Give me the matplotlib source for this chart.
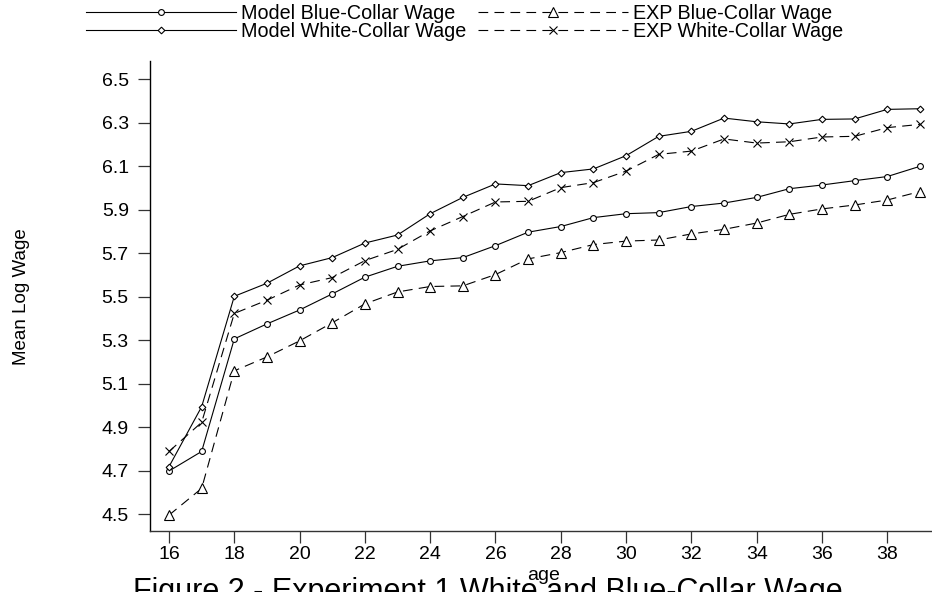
import matplotlib
matplotlib.use("Agg")
import matplotlib.pyplot as plt
import numpy as np
from matplotlib.legend_handler import HandlerLine2D

plt.rcParams["font.family"] = ["Liberation Sans", "DejaVu Sans"]
plt.rcParams["lines.scale_dashes"] = False

ages = list(range(16, 40))

model_blue = [4.698, 4.788, 5.306, 5.375, 5.439, 5.513, 5.590, 5.640, 5.665, 5.680,
              5.735, 5.797, 5.823, 5.864, 5.882, 5.887, 5.915, 5.931, 5.957, 5.997,
              6.014, 6.034, 6.053, 6.100]
model_white = [4.718, 4.994, 5.502, 5.562, 5.642, 5.680, 5.747, 5.784, 5.882, 5.957,
               6.019, 6.011, 6.071, 6.088, 6.149, 6.238, 6.261, 6.322, 6.305, 6.295,
               6.316, 6.318, 6.362, 6.365]
exp_blue = [4.495, 4.618, 5.159, 5.223, 5.297, 5.380, 5.467, 5.522, 5.547, 5.550,
            5.602, 5.674, 5.703, 5.740, 5.756, 5.761, 5.789, 5.810, 5.839, 5.879,
            5.904, 5.922, 5.945, 5.984]
exp_white = [4.788, 4.922, 5.423, 5.484, 5.554, 5.588, 5.666, 5.718, 5.803, 5.869,
             5.936, 5.939, 6.002, 6.025, 6.078, 6.155, 6.170, 6.226, 6.207, 6.213,
             6.235, 6.238, 6.278, 6.293]

x_ticks = list(range(16, 40, 2))
y_ticks = [4.5, 4.7, 4.9, 5.1, 5.3, 5.5, 5.7, 5.9, 6.1, 6.3, 6.5]


class KeyHandler(HandlerLine2D):
    # put the key marker a quarter of the way along the line
    def get_xdata(self, legend, xdescent, ydescent, width, height, fontsize):
        xdata = np.array([-xdescent, -xdescent + width])
        return xdata, np.array([-xdescent + 0.25 * width])


fig = plt.figure(figsize=(9.32, 5.92), dpi=100)
ax = fig.add_axes([150.3 / 932, 1 - 531 / 592, 1 - 150.3 / 932, (531 - 60.7) / 592])

lw = 0.8
mew = 0.8
dash = (7, 4.5)
l1, = ax.plot(ages, model_blue, color="black", lw=lw, marker="o", ms=4.2,
              mfc="white", mec="black", mew=mew, label="Model Blue-Collar Wage")
l2, = ax.plot(ages, model_white, color="black", lw=lw, marker="D", ms=3.4,
              mfc="white", mec="black", mew=mew, label="Model White-Collar Wage")
l3, = ax.plot(ages, exp_blue, color="black", lw=lw, dashes=dash, marker="^", ms=7.2,
              mfc="white", mec="black", mew=mew, label="EXP Blue-Collar Wage")
l4, = ax.plot(ages, exp_white, color="black", lw=lw, dashes=dash, marker="x", ms=6,
              mec="black", mew=mew, label="EXP White-Collar Wage")

ax.set_xlim(15.427, 39.37)
ax.set_ylim(4.422, 6.586)
ax.set_xticks(x_ticks)
ax.set_yticks(y_ticks)
ax.set_yticklabels([f"{v:.1f}" for v in y_ticks])
for side in ["top", "right"]:
    ax.spines[side].set_visible(False)
ax.spines["left"].set_color("black")
ax.spines["bottom"].set_color("#333333")
ax.spines["left"].set_linewidth(1.0)
ax.spines["bottom"].set_linewidth(1.0)
ax.tick_params(axis="both", direction="out", length=8.5, width=0.9, colors="#333333",
               labelcolor="black", labelsize=14)
ax.tick_params(axis="y", pad=7)
ax.tick_params(axis="x", pad=2)

fig.text(22 / 932, 1 - 297 / 592, "Mean Log Wage", rotation=90, ha="center", va="center",
         fontsize=13.5)
fig.text(544 / 932, 1 - 576 / 592, "age", ha="center", va="center", fontsize=14)
fig.text(133 / 932, 1 - 600 / 592, "Figure 2 - Experiment 1 White and Blue-Collar Wage",
         ha="left", va="baseline", fontsize=22)

fig.legend(handles=[l1, l2, l3, l4], ncol=2, loc="upper left",
           bbox_to_anchor=(86 / 932, 1 - 4 / 592), frameon=False, fontsize=14.2,
           handlelength=7.6, handletextpad=0.25, columnspacing=0.6, labelspacing=-0.05,
           borderpad=0, borderaxespad=0,
           handler_map={matplotlib.lines.Line2D: KeyHandler()})

fig.savefig("out.png", dpi=100)
